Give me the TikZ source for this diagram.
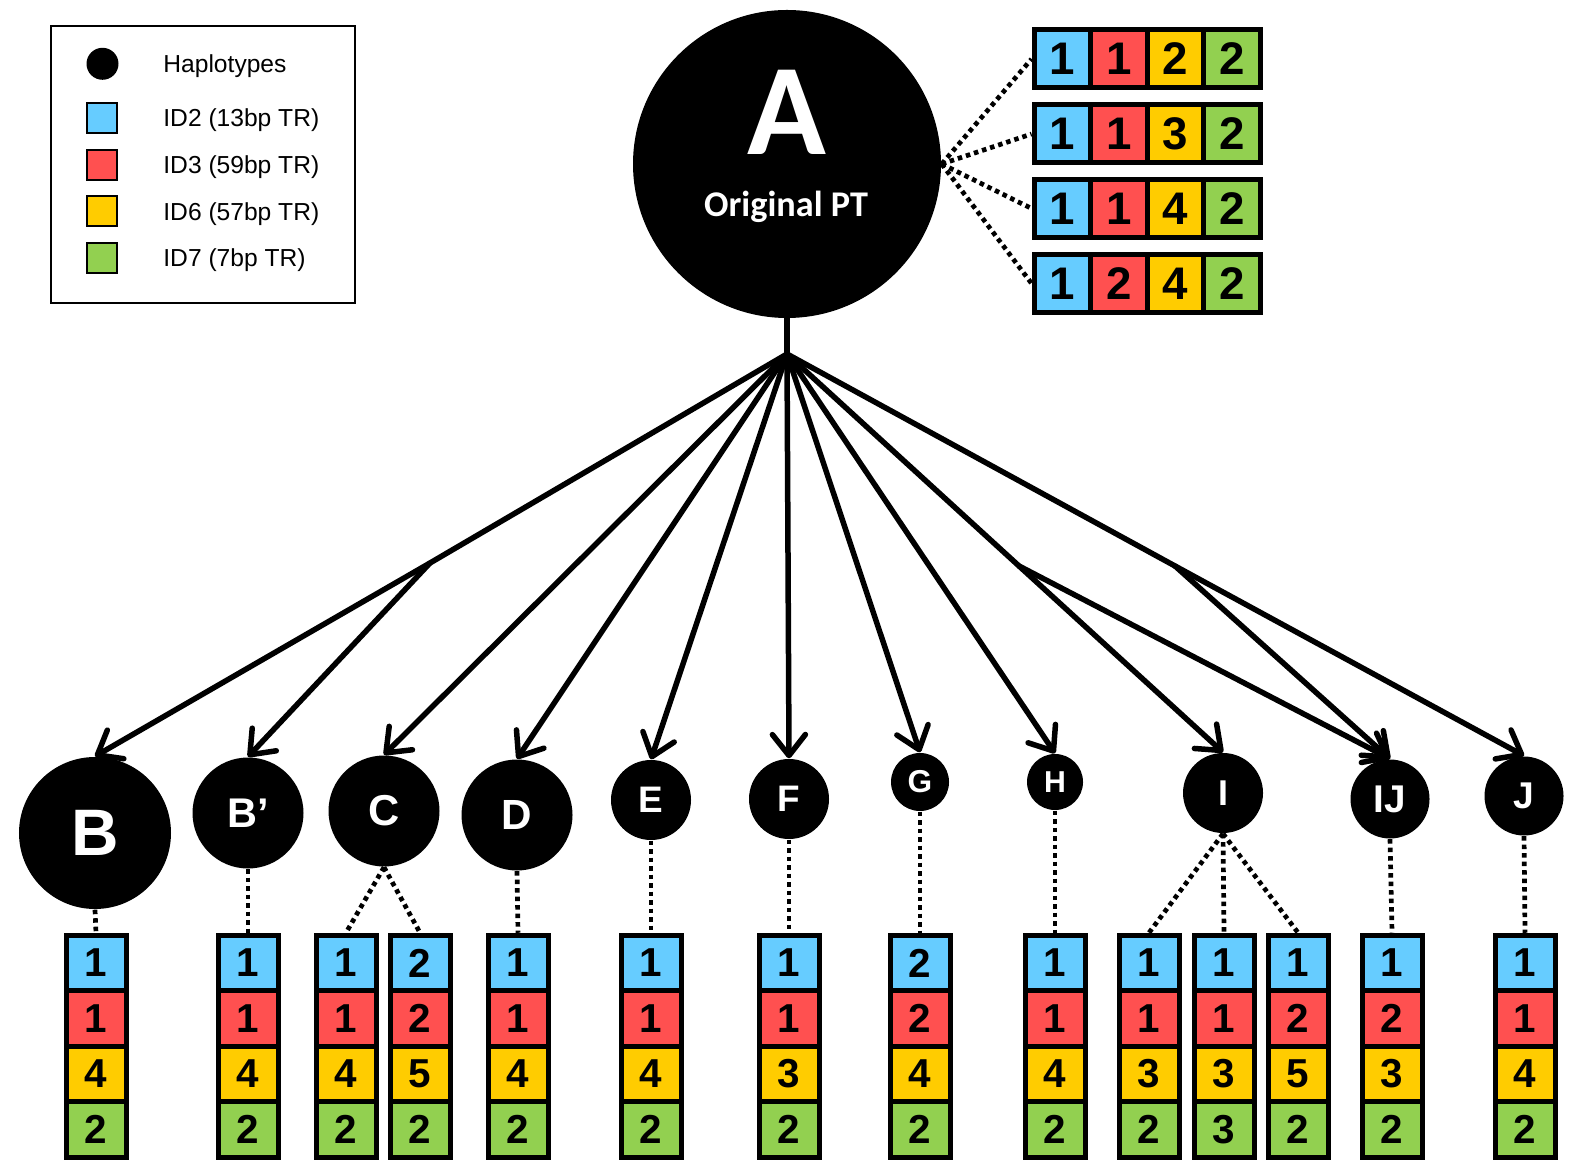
\documentclass[tikz,border=0pt]{standalone}
\usepackage{fontspec}
\setmainfont{Liberation Sans}
\newfontfamily\calfont{Carlito}
\usetikzlibrary{arrows.meta}
\newcommand\fsz[1]{\fontsize{#1}{#1}\selectfont}
\definecolor{tr2}{HTML}{66CCFF}
\definecolor{tr3}{HTML}{FF5050}
\definecolor{tr6}{HTML}{FFCC00}
\definecolor{tr7}{HTML}{92D050}
\tikzset{
  hap/.style     ={circle, fill=black, text=white, inner sep=0pt},
  cell/.style    ={draw=black, line width=0.5mm, minimum width=0.6cm,
                   minimum height=0.555cm, inner sep=0pt,
                   font=\fsz{11.5}\bfseries},
  tcell/.style   ={cell, minimum width=0.565cm, minimum height=0.58cm,
                   font=\fsz{13}\bfseries},
  link/.style    ={line width=0.55mm, line cap=round, line join=round},
  arr/.style     ={link, -{Straight Barb[length=2.1mm, width=3.3mm, round]}},
  tie/.style     ={line width=0.47mm, dash pattern=on 0.45mm off 0.4mm},
  keybox/.style  ={draw=black, line width=0.2mm, minimum size=0.3cm,
                   inner sep=0pt},
  keytext/.style ={anchor=base west, inner sep=0pt, font=\fsz{7}},
}

\begin{document}
\begin{tikzpicture}
\useasboundingbox (0,0) rectangle (15.86,-11.73);

% legend
\node[draw=black, line width=0.2mm, minimum width=3.04cm,
      minimum height=2.77cm] (legend) at (2.03,-1.644) {};
\node[hap, minimum size=0.32cm] (keyhap) at (1.025,-0.638) {};
\node[keytext] (keyhaptxt) at (1.627,-0.725) {Haplotypes};
\foreach \k/\col/\y/\lab in {2/tr2/1.177/ID2 (13bp TR), 3/tr3/1.647/ID3 (59bp TR),
                             6/tr6/2.113/ID6 (57bp TR), 7/tr7/2.577/ID7 (7bp TR)} {
  \node[keybox, fill=\col] (key\k) at (1.02,-\y) {};
  \node[keytext] (keytxt\k) at (1.627,-\y-0.09) {\lab};
}

% original haplotype
\node[hap, minimum size=3.08cm] (A) at (7.87,-1.64) {};
\node[anchor=base, text=white, font=\calfont\bfseries\fsz{37}] (Alab)
  at (7.87,-1.55) {A};
\node[anchor=base, text=white, font=\calfont\bfseries\fsz{10.3}] (Apt)
  at (7.86,-2.165) {Original PT};

\foreach \r/\y/\a/\b/\c/\d in {1/-0.59/1/1/2/2, 2/-1.34/1/1/3/2,
                               3/-2.085/1/1/4/2, 4/-2.835/1/2/4/2} {
  \node[tcell, fill=tr2] (T\r-1) at (10.623,\y) {\a};
  \node[tcell, fill=tr3] (T\r-2) at (11.188,\y) {\b};
  \node[tcell, fill=tr6] (T\r-3) at (11.753,\y) {\c};
  \node[tcell, fill=tr7] (T\r-4) at (12.318,\y) {\d};
  \draw[tie] (A.east) -- (T\r-1.west);
}

% derived haplotypes
\foreach \nm/\txt/\px/\py/\dia/\fs in {B/B/0.95/-8.33/1.52/18.7,
    Bp/B’/2.48/-8.13/1.11/11.8, C/C/3.84/-8.11/1.11/12.3,
    D/D/5.17/-8.15/1.11/12, E/E/6.51/-8.00/0.80/10.5,
    F/F/7.89/-7.99/0.80/10.5, G/G/9.20/-7.82/0.58/9,
    H/H/10.55/-7.82/0.56/8.6, I/I/12.23/-7.93/0.80/10.2,
    IJ/IJ/13.90/-7.99/0.79/11, J/J/15.24/-7.96/0.79/10.6} {
  \node[hap, minimum size=\dia cm, font=\fsz{\fs}\bfseries] (\nm) at (\px,\py) {\txt};
}

\coordinate (fan) at (7.87,-3.54);
\coordinate (brB) at (4.30,-5.63);
\coordinate (brI) at (10.19,-5.66);
\coordinate (brJ) at (11.75,-5.66);

\draw[link] (A.south) -- (fan);
\foreach \c in {C, D, E, F, G, H}
  \draw[arr] (fan) -- (\c.north);
\draw[arr] (fan) -- (brB) -- (B.north);
\draw[arr] (brB) -- (Bp.north);
\draw[arr] (fan) -- (brI) -- (I.north);
\draw[arr] (brI) -- (IJ.north);
\draw[arr] (fan) -- (brJ) -- (J.north);
\draw[arr] (brJ) -- (IJ.north);

% repeat stacks
\foreach \n/\x/\a/\b/\c/\d in {B/0.96/1/1/4/2, Bp/2.48/1/1/4/2, C1/3.46/1/1/4/2,
    C2/4.20/2/2/5/2, D/5.18/1/1/4/2, E/6.51/1/1/4/2, F/7.89/1/1/3/2,
    G/9.20/2/2/4/2, H/10.55/1/1/4/2, I1/11.49/1/1/3/2, I2/12.24/1/1/3/3,
    I3/12.98/1/2/5/2, IJ/13.92/1/2/3/2, J/15.25/1/1/4/2} {
  \node[cell, fill=tr2] (\n-1) at (\x,-9.63) {\a};
  \node[cell, fill=tr3] (\n-2) at (\x,-10.185) {\b};
  \node[cell, fill=tr6] (\n-3) at (\x,-10.74) {\c};
  \node[cell, fill=tr7] (\n-4) at (\x,-11.295) {\d};
}

\foreach \p/\s in {B/B, Bp/Bp, C/C1, C/C2, D/D, E/E, F/F, G/G, H/H,
                   I/I1, I/I2, I/I3, IJ/IJ, J/J}
  \draw[tie] (\p.south) -- (\s-1.north);

\end{tikzpicture}
\end{document}
